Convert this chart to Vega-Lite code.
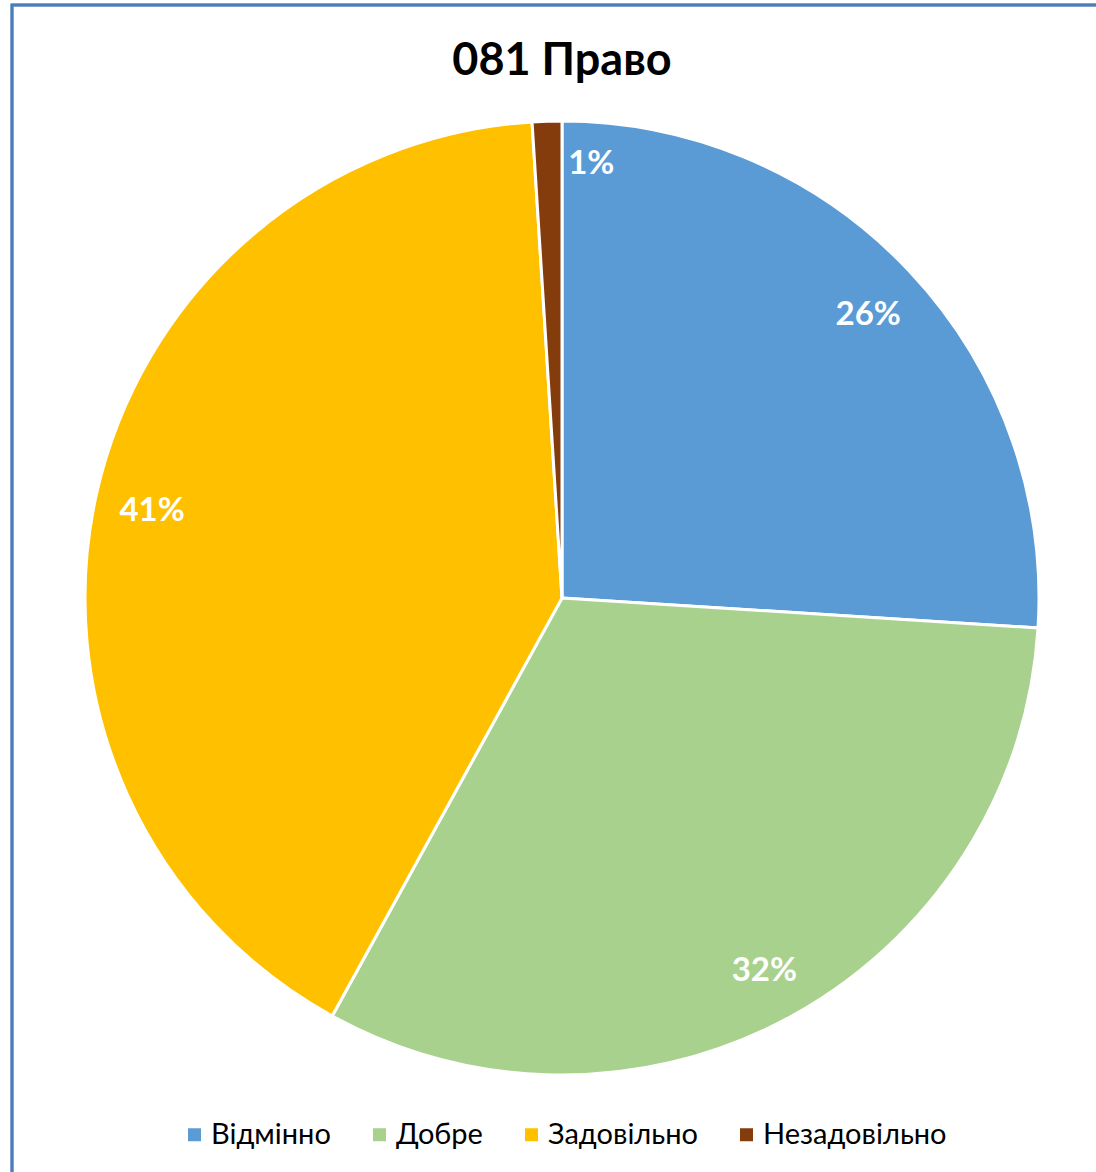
{
  "$schema": "https://vega.github.io/schema/vega-lite/v6.json",
  "width": 1100,
  "height": 1186,
  "autosize": {"type": "none"},
  "padding": {"left": 12, "top": 5, "right": 0, "bottom": 0},
  "background": "white",
  "title": {"text": "081 Право", "font": "Lato", "fontSize": 45, "fontWeight": "bold", "color": "#000000", "anchor": "middle", "frame": "group", "offset": -80},
  "data": {"values": [
    {"grade": "Відмінно", "pct": 26, "label": "26%"},
    {"grade": "Добре", "pct": 32, "label": "32%"},
    {"grade": "Задовільно", "pct": 41, "label": "41%"},
    {"grade": "Незадовільно", "pct": 1, "label": "1%"}
  ]},
  "layer": [
    {"mark": {"type": "rect", "fill": "white", "fillOpacity": 0, "stroke": "#4A7EBB", "strokeWidth": 2.5},
     "encoding": {}},
    {"mark": {"type": "arc", "outerRadius": 477, "stroke": "white", "strokeWidth": 3},
     "encoding": {
       "theta": {"field": "pct", "type": "quantitative", "stack": true},
       "color": {
         "field": "grade", "type": "nominal",
         "sort": ["Відмінно", "Добре", "Задовільно", "Незадовільно"],
         "scale": {"domain": ["Відмінно", "Добре", "Задовільно", "Незадовільно"], "range": ["#5B9BD5", "#A9D18E", "#FFC000", "#843C0C"]},
         "legend": {"orient": "none", "legendX": 168, "legendY": 1115, "direction": "horizontal", "title": null, "symbolType": "square", "symbolSize": 169, "symbolStrokeWidth": 0, "labelFont": "Lato", "labelFontSize": 29, "labelColor": "#000000", "labelOffset": 2, "columnPadding": 34, "labelLimit": 400}
       }
     }},
    {"transform": [{"filter": "datum.pct > 1"}],
     "mark": {"type": "text", "radius": 420, "dy": 5, "fill": "white", "font": "Lato", "fontSize": 33, "fontWeight": "bold"},
     "encoding": {
       "theta": {"field": "pct", "type": "quantitative", "stack": true},
       "order": {"field": "grade", "sort": null},
       "text": {"field": "label"}
     }},
    {"transform": [{"filter": "datum.pct <= 1"}],
     "mark": {"type": "text", "radius": 424, "dx": 16, "dy": -10, "fill": "white", "font": "Lato", "fontSize": 33, "fontWeight": "bold"},
     "encoding": {
       "theta": {"field": "pct", "type": "quantitative", "stack": true},
       "text": {"field": "label"}
     }}
  ]
}
